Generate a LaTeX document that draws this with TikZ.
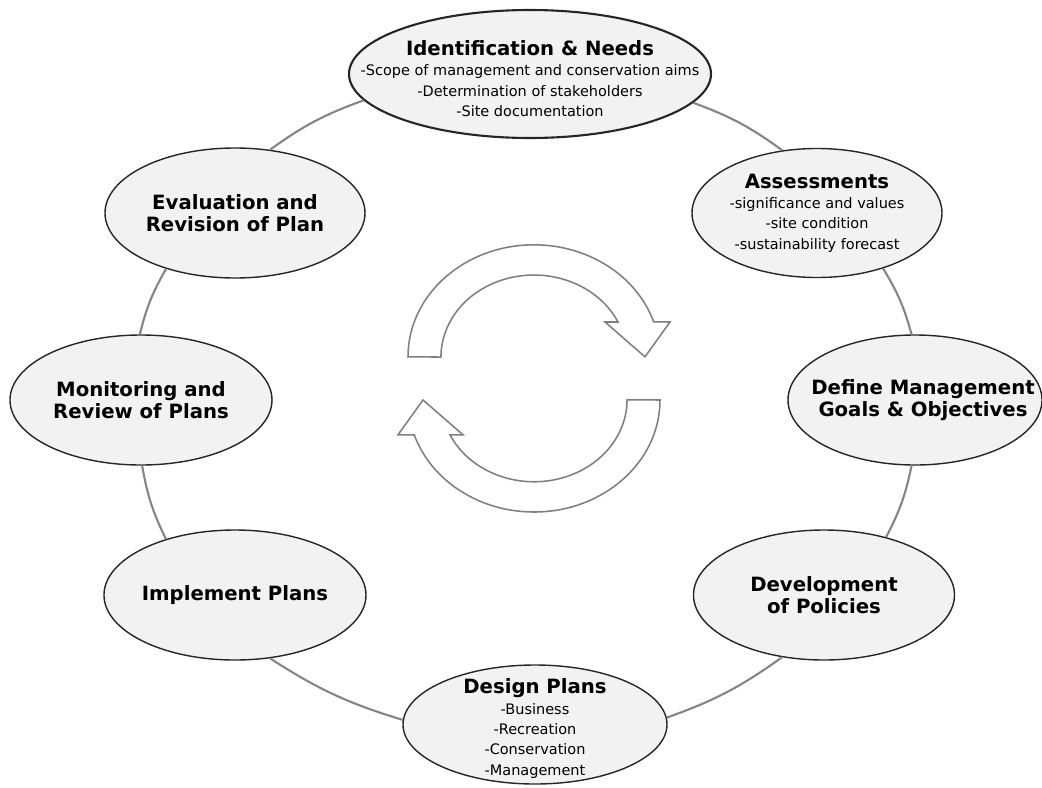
\documentclass[tikz,border=0pt]{standalone}
\usepackage{fontspec}
\setmainfont{DejaVu Sans}
\usetikzlibrary{shapes.geometric}

\definecolor{stagefill}{HTML}{F2F2F2}
\definecolor{ringgray}{HTML}{858585}
\definecolor{turngray}{HTML}{7F7F7F}

\tikzset{
  stage/.style={ellipse, draw=black!85, line width=1pt, fill=stagefill,
    minimum width=6.5cm, minimum height=3.25cm},
  heading/.style={align=center, font=\bfseries\fontsize{14}{15.5}\selectfont},
  notes/.style={align=center, font=\fontsize{10.3}{14.5}\selectfont},
  ring/.style={draw=ringgray, line width=1.5pt, bend left=8},
  turn/.style={draw=turngray, line width=1.1pt, fill=white},
}
\newcommand{\hd}[1]{{\bfseries\fontsize{14}{16}\selectfont #1}}

\begin{document}
\begin{tikzpicture}
\useasboundingbox (-13.25,-9.675) rectangle (12.8,10);

% the eight stages
\node[stage, minimum width=9.05cm, minimum height=3.2cm, line width=1.5pt] (id) at (0,8.15) {};
\node[stage, minimum width=6.25cm, minimum height=3.225cm] (as) at (7.175,4.675) {};
\node[stage, minimum width=6.35cm] (goals) at (9.625,0) {};
\node[stage, minimum width=6.525cm] (pol) at (7.35,-4.875) {};
\node[stage, minimum width=6.6cm, minimum height=2.975cm] (des) at (0.125,-8.1125) {};
\node[stage, minimum width=6.55cm] (impl) at (-7.375,-4.875) {};
\node[stage, minimum width=6.55cm] (mon) at (-9.725,0) {};
\node[stage] (eval) at (-7.375,4.675) {};

\node[notes] (id-t) at ([yshift=-0.12cm]id) {\hd{Identification \& Needs}\\
  -Scope of management and conservation aims\\
  -Determination of stakeholders\\
  -Site documentation};
\node[notes] (as-t) at (as) {\hd{Assessments}\\
  -significance and values\\
  -site condition\\
  -sustainability forecast};
\node[heading] (goals-t) at ([xshift=0.2cm]goals) {Define Management\\Goals \& Objectives};
\node[heading] (pol-t) at (pol) {Development\\of Policies};
\node[notes] (des-t) at ([yshift=-0.1cm]des) {\hd{Design Plans}\\
  -Business\\
  -Recreation\\
  -Conservation\\
  -Management};
\node[heading] (impl-t) at (impl) {Implement Plans};
\node[heading] (mon-t) at (mon) {Monitoring and\\Review of Plans};
\node[heading] (eval-t) at (eval) {Evaluation and\\Revision of Plan};

% the ring, clockwise
\draw[ring] (id.-10) to (as.119);
\draw[ring] (as.-40) to (goals.93);
\draw[ring] (goals.-93) to (pol.43);
\draw[ring] (pol.236) to (des.3);
\draw[ring] (des.178) to (impl.-61);
\draw[ring] (impl.141) to (mon.-89);
\draw[ring] (mon.91) to (eval.219);
\draw[ring] (eval.61) to (id.189);

% two curved arrows in the middle
\begin{scope}[shift={(0.1,0.54)}]
  \foreach \r in {0,180}
    \draw[turn, rotate=\r] (-3.15,0.54)
      arc[start angle=180, end angle=18.2, x radius=3.15, y radius=2.8]
      -- (3.4,1.41) -- (2.775,0.54) -- (1.775,1.41) -- (2.10,1.41)
      arc[start angle=25.3, end angle=180, x radius=2.325, y radius=2.05]
      -- cycle;
\end{scope}
\end{tikzpicture}
\end{document}
